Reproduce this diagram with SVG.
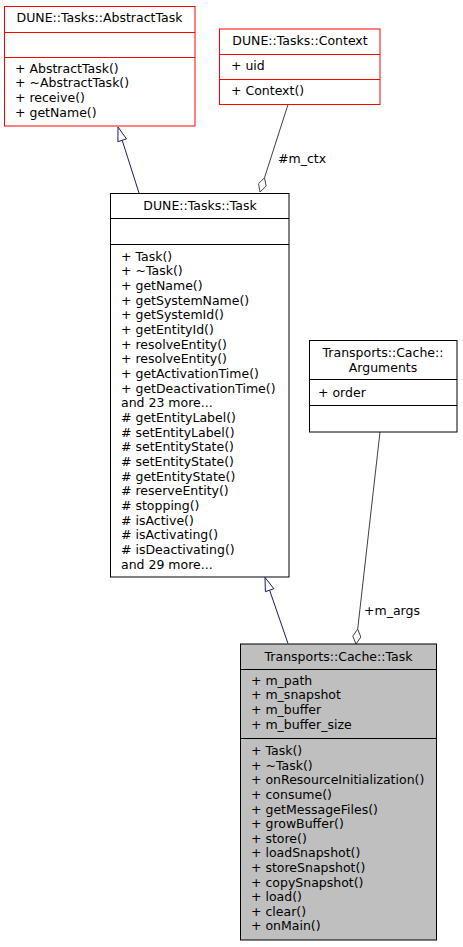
<svg xmlns="http://www.w3.org/2000/svg" width="463" height="947" viewBox="0 0 463 947">
<style>
text{font-family:"DejaVu Sans","Liberation Sans",sans-serif;font-size:12.5px;fill:#000}
.c{text-anchor:middle}
.red{fill:#fff;stroke:#ff0000;stroke-width:1}
.redl{stroke:#ff0000;stroke-width:1}
.blk{fill:#fff;stroke:#000;stroke-width:1}
.cur{fill:#bfbfbf;stroke:#000;stroke-width:1}
.blkl{stroke:#000;stroke-width:1}
.inh{stroke:#191970;stroke-width:1;fill:none}
.inhh{stroke:#191970;stroke-width:1;fill:#fff}
.agg{stroke:#404040;stroke-width:1;fill:none}
.aggh{stroke:#404040;stroke-width:1;fill:#fff}
</style>
<rect width="463" height="947" fill="#fff"/>
<g id="edges">
<line class="inh" x1="139" y1="193" x2="122.2" y2="140.3"/>
<polygon class="inhh" points="118,127 126.5,138.9 117.9,141.7"/>
<line class="agg" x1="288" y1="104.5" x2="264.5" y2="177.7"/>
<polygon class="aggh" points="264.5,177.7 266.1,186.1 260,192 258.5,183.7"/>
<text x="278" y="162.5">#m_ctx</text>
<line class="inh" x1="288" y1="643.5" x2="269.6" y2="590.2"/>
<polygon class="inhh" points="265,577.5 273.8,588.7 265.4,591.7"/>
<line class="agg" x1="380" y1="432" x2="357.7" y2="629.1"/>
<polygon class="aggh" points="357.7,629.1 360.8,637 356,644 352.8,636.1"/>
<text x="364" y="614.5">+m_args</text>
</g>
<g id="AbstractTask">
<rect class="red" x="4.5" y="6.5" width="190.5" height="119.5"/>
<line class="redl" x1="4.5" y1="32.5" x2="195" y2="32.5"/>
<line class="redl" x1="4.5" y1="57.5" x2="195" y2="57.5"/>
<text class="c" x="99.5" y="21.5">DUNE::Tasks::AbstractTask</text>
<text x="15" y="72.5">+ AbstractTask()</text>
<text x="15" y="87.2">+ ~AbstractTask()</text>
<text x="15" y="101.8">+ receive()</text>
<text x="15" y="116.5">+ getName()</text>
</g>
<g id="Context">
<rect class="red" x="219.5" y="29" width="160.5" height="75.5"/>
<line class="redl" x1="219.5" y1="54.5" x2="380" y2="54.5"/>
<line class="redl" x1="219.5" y1="79.5" x2="380" y2="79.5"/>
<text class="c" x="300" y="45.2">DUNE::Tasks::Context</text>
<text x="231" y="69.5">+ uid</text>
<text x="231" y="94.5">+ Context()</text>
</g>
<g id="Task">
<rect class="blk" x="110.5" y="193.5" width="178.5" height="383.5"/>
<line class="blkl" x1="110.5" y1="218.5" x2="289" y2="218.5"/>
<line class="blkl" x1="110.5" y1="244.5" x2="289" y2="244.5"/>
<text class="c" x="200" y="209.5">DUNE::Tasks::Task</text>
<text x="121">
<tspan x="121" y="260.5">+ Task()</tspan>
<tspan x="121" y="275.17">+ ~Task()</tspan>
<tspan x="121" y="289.84">+ getName()</tspan>
<tspan x="121" y="304.51">+ getSystemName()</tspan>
<tspan x="121" y="319.18">+ getSystemId()</tspan>
<tspan x="121" y="333.85">+ getEntityId()</tspan>
<tspan x="121" y="348.52">+ resolveEntity()</tspan>
<tspan x="121" y="363.19">+ resolveEntity()</tspan>
<tspan x="121" y="377.86">+ getActivationTime()</tspan>
<tspan x="121" y="392.53">+ getDeactivationTime()</tspan>
<tspan x="121" y="407.2">and 23 more...</tspan>
<tspan x="121" y="421.87"># getEntityLabel()</tspan>
<tspan x="121" y="436.54"># setEntityLabel()</tspan>
<tspan x="121" y="451.21"># setEntityState()</tspan>
<tspan x="121" y="465.88"># setEntityState()</tspan>
<tspan x="121" y="480.55"># getEntityState()</tspan>
<tspan x="121" y="495.22"># reserveEntity()</tspan>
<tspan x="121" y="509.89"># stopping()</tspan>
<tspan x="121" y="524.56"># isActive()</tspan>
<tspan x="121" y="539.23"># isActivating()</tspan>
<tspan x="121" y="553.9"># isDeactivating()</tspan>
<tspan x="121" y="568.57">and 29 more...</tspan>
</text>
</g>
<g id="Arguments">
<rect class="blk" x="309.5" y="340.5" width="147.5" height="91.5"/>
<line class="blkl" x1="309.5" y1="379.5" x2="457" y2="379.5"/>
<line class="blkl" x1="309.5" y1="405.5" x2="457" y2="405.5"/>
<text class="c" x="383" y="357.3">Transports::Cache::</text>
<text class="c" x="383" y="371.8">Arguments</text>
<text x="318" y="396.5">+ order</text>
</g>
<g id="CacheTask">
<rect class="cur" x="240.5" y="644" width="196" height="296"/>
<line class="blkl" x1="240.5" y1="669.5" x2="436.5" y2="669.5"/>
<line class="blkl" x1="240.5" y1="738.5" x2="436.5" y2="738.5"/>
<text class="c" x="338.5" y="660.5">Transports::Cache::Task</text>
<text x="251">
<tspan x="251" y="684.5">+ m_path</tspan>
<tspan x="251" y="699.17">+ m_snapshot</tspan>
<tspan x="251" y="713.84">+ m_buffer</tspan>
<tspan x="251" y="728.5">+ m_buffer_size</tspan>
</text>
<text x="251">
<tspan x="251" y="755.2">+ Task()</tspan>
<tspan x="251" y="769.8">+ ~Task()</tspan>
<tspan x="251" y="784.4">+ onResourceInitialization()</tspan>
<tspan x="251" y="799">+ consume()</tspan>
<tspan x="251" y="813.6">+ getMessageFiles()</tspan>
<tspan x="251" y="828.2">+ growBuffer()</tspan>
<tspan x="251" y="842.8">+ store()</tspan>
<tspan x="251" y="857.4">+ loadSnapshot()</tspan>
<tspan x="251" y="872">+ storeSnapshot()</tspan>
<tspan x="251" y="886.6">+ copySnapshot()</tspan>
<tspan x="251" y="901.2">+ load()</tspan>
<tspan x="251" y="915.8">+ clear()</tspan>
<tspan x="251" y="930.4">+ onMain()</tspan>
</text>
</g>
</svg>
